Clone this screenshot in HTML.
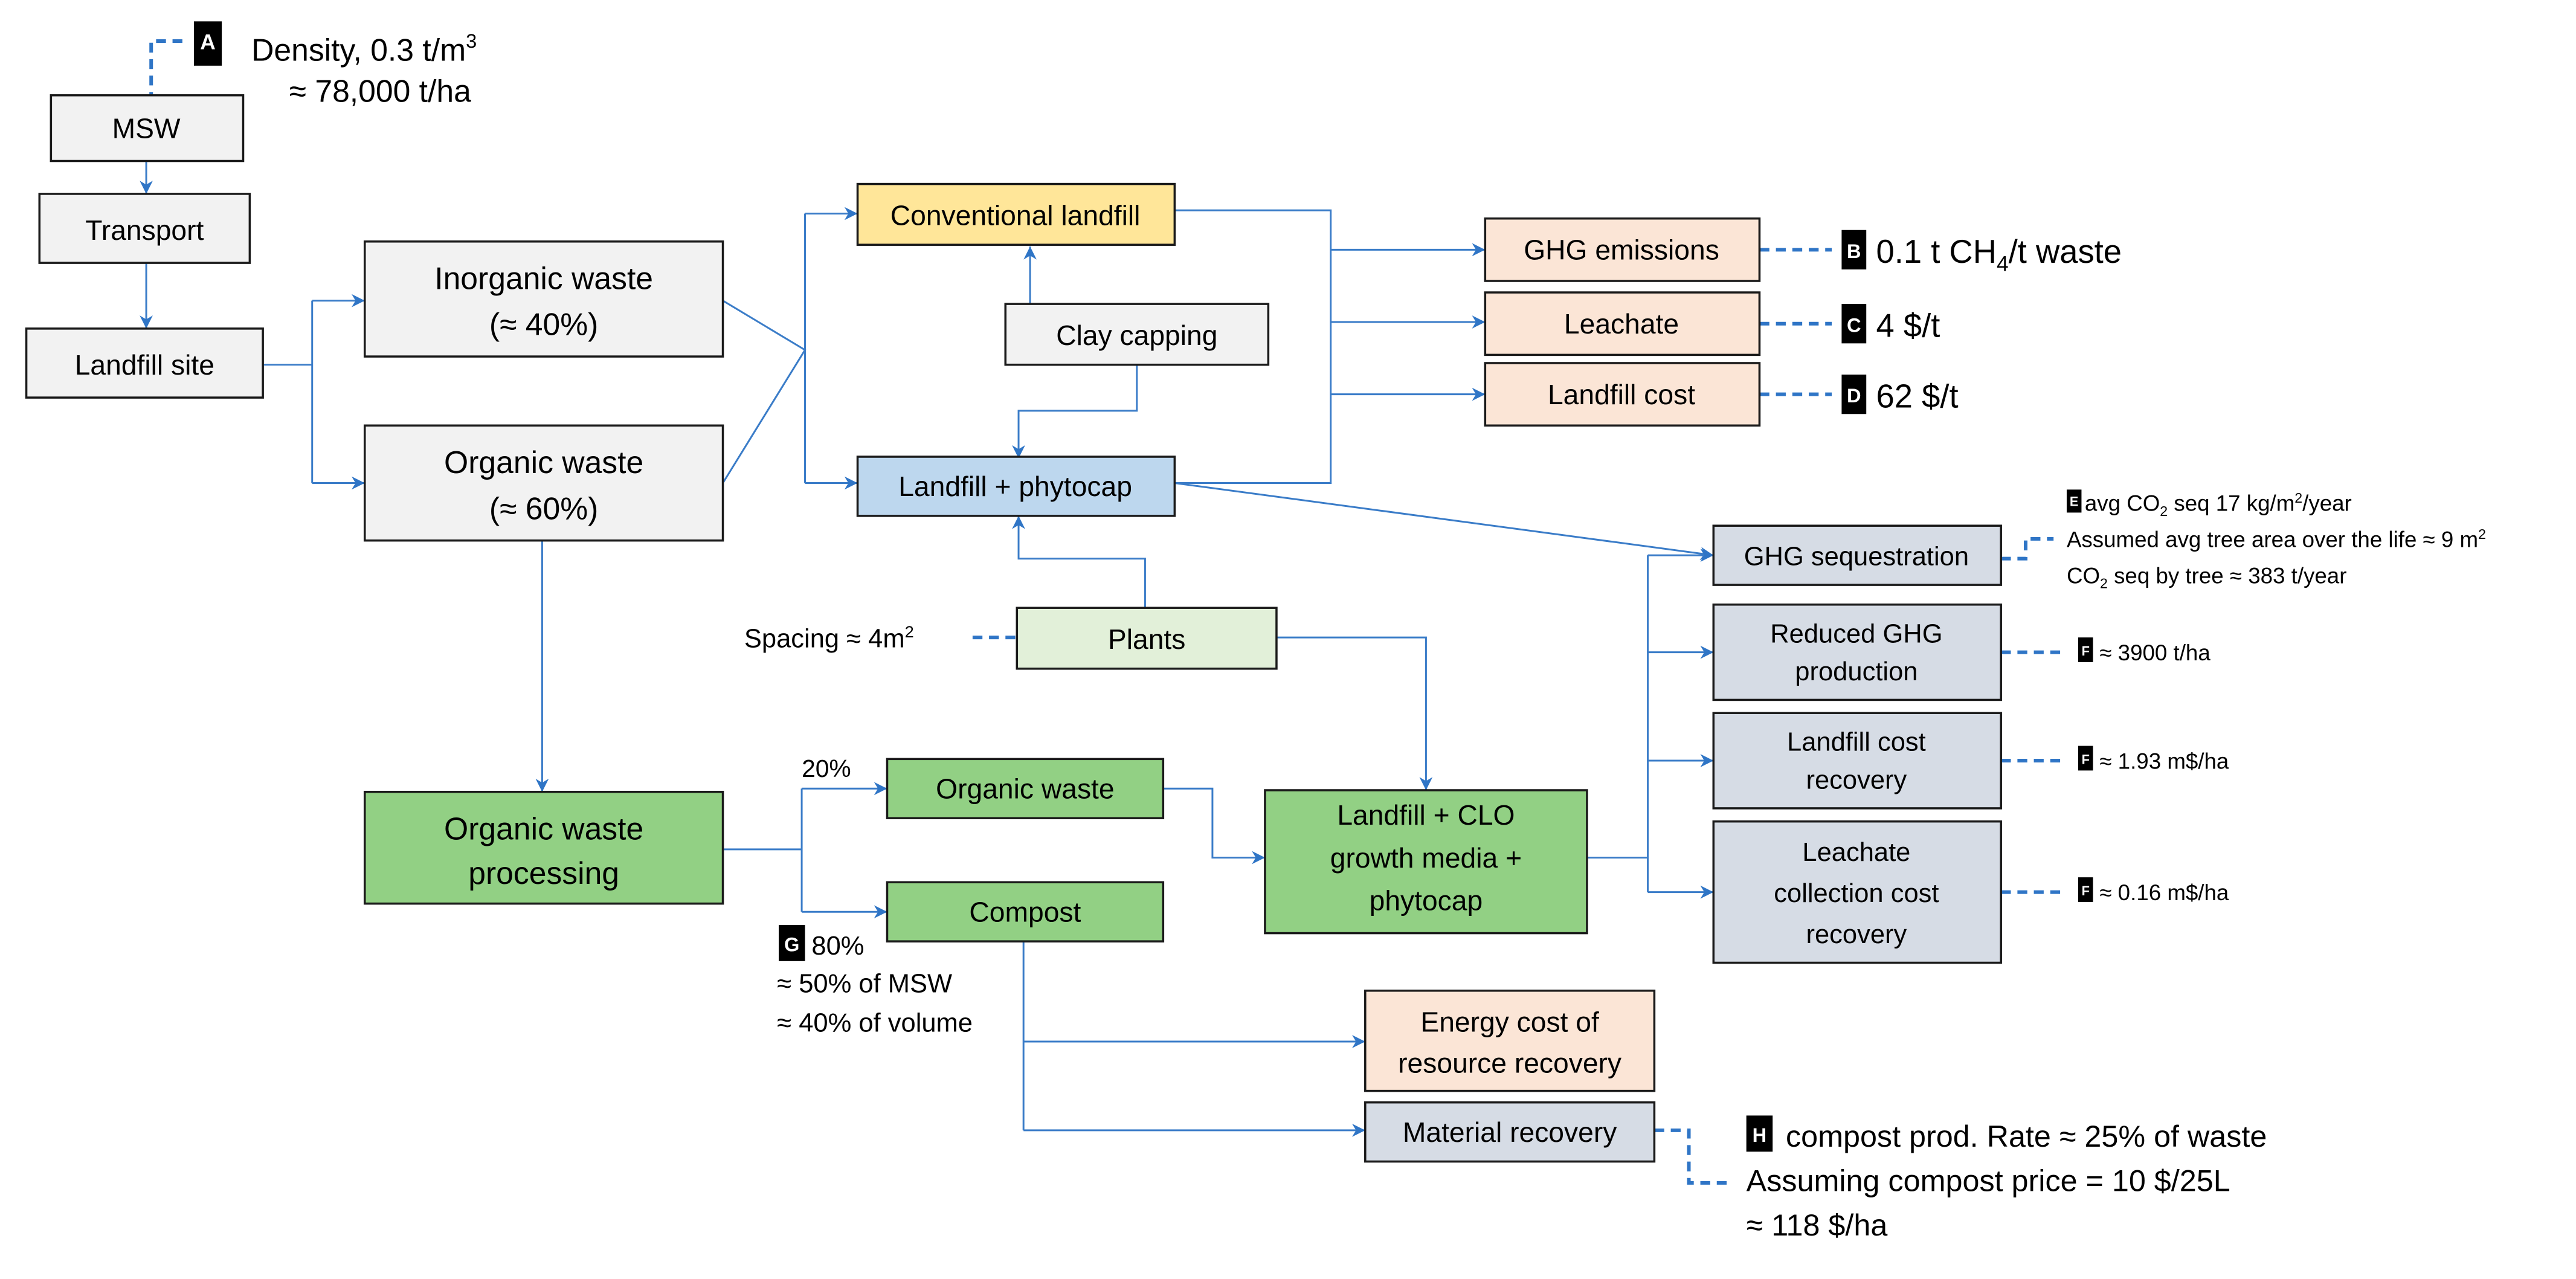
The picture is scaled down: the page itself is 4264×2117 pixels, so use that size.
<!DOCTYPE html>
<html><head><meta charset="utf-8">
<style>
html,body{margin:0;padding:0;background:#fff;}
svg{display:block;}
text{font-family:"Liberation Sans",sans-serif;fill:#000;}
</style></head>
<body>
<svg width="4264" height="2117" viewBox="0 0 1568 778.5" xmlns="http://www.w3.org/2000/svg">
<defs>
<marker id="ar" viewBox="0 0 10 10" refX="10" refY="5" markerWidth="8" markerHeight="8" markerUnits="userSpaceOnUse" orient="auto">
<path d="M0,0 L10,5 L0,10 L3,5 Z" fill="#2f75c6"/>
</marker>
</defs>
<rect width="1568" height="778.5" fill="#fff"/>

<g stroke="#3a7cc8" stroke-width="1.1" fill="none">
<line x1="89" y1="98" x2="89" y2="118" marker-end="url(#ar)"/>
<line x1="89" y1="160" x2="89" y2="200" marker-end="url(#ar)"/>
<polyline points="160,222 190,222"/>
<line x1="190" y1="183" x2="190" y2="294"/>
<line x1="190" y1="183" x2="222" y2="183" marker-end="url(#ar)"/>
<line x1="190" y1="294" x2="222" y2="294" marker-end="url(#ar)"/>
<polyline points="440,183 490,213 440,294"/>
<line x1="490" y1="130" x2="490" y2="294"/>
<line x1="490" y1="130" x2="522" y2="130" marker-end="url(#ar)"/>
<line x1="490" y1="294" x2="522" y2="294" marker-end="url(#ar)"/>
<line x1="627" y1="185" x2="627" y2="150" marker-end="url(#ar)"/>
<polyline points="692,222 692,250 620,250 620,279" marker-end="url(#ar)"/>
<polyline points="715,128 810,128 810,294 715,294"/>
<line x1="810" y1="152" x2="904" y2="152" marker-end="url(#ar)"/>
<line x1="810" y1="196" x2="904" y2="196" marker-end="url(#ar)"/>
<line x1="810" y1="240" x2="904" y2="240" marker-end="url(#ar)"/>
<line x1="715" y1="294" x2="1043" y2="338" marker-end="url(#ar)"/>
<polyline points="697,370 697,340 620,340 620,314" marker-end="url(#ar)"/>
<polyline points="777,388 868,388 868,481" marker-end="url(#ar)"/>
<line x1="330" y1="329" x2="330" y2="482" marker-end="url(#ar)"/>
<polyline points="440,517 488,517"/>
<line x1="488" y1="480" x2="488" y2="555"/>
<line x1="488" y1="480" x2="540" y2="480" marker-end="url(#ar)"/>
<line x1="488" y1="555" x2="540" y2="555" marker-end="url(#ar)"/>
<polyline points="708,480 738,480 738,522 770,522" marker-end="url(#ar)"/>
<polyline points="966,522 1003,522"/>
<line x1="1003" y1="338" x2="1003" y2="543"/>
<line x1="1003" y1="338" x2="1043" y2="338" marker-end="url(#ar)"/>
<line x1="1003" y1="397" x2="1043" y2="397" marker-end="url(#ar)"/>
<line x1="1003" y1="463" x2="1043" y2="463" marker-end="url(#ar)"/>
<line x1="1003" y1="543" x2="1043" y2="543" marker-end="url(#ar)"/>
<line x1="623" y1="573" x2="623" y2="688"/>
<line x1="623" y1="634" x2="831" y2="634" marker-end="url(#ar)"/>
<line x1="623" y1="688" x2="831" y2="688" marker-end="url(#ar)"/>
</g>

<g stroke="#2f75c6" stroke-width="2.2" fill="none" stroke-dasharray="6,4">
<polyline points="111,25 92,25 92,58"/>
<line x1="1071" y1="152" x2="1115" y2="152"/>
<line x1="1071" y1="197" x2="1115" y2="197"/>
<line x1="1071" y1="240" x2="1115" y2="240"/>
<polyline points="1218,340 1233,340 1233,328 1250,328"/>
<line x1="1218" y1="397" x2="1256" y2="397"/>
<line x1="1218" y1="463" x2="1256" y2="463"/>
<line x1="1218" y1="543" x2="1256" y2="543"/>
<polyline points="1007,688 1028,688 1028,720 1052,720"/>
<line x1="592" y1="388" x2="619" y2="388"/>
</g>

<g stroke="#1a1a1a" stroke-width="1.3">
<rect x="31" y="58" width="117" height="40" fill="#f2f2f2"/>
<rect x="24" y="118" width="128" height="42" fill="#f2f2f2"/>
<rect x="16" y="200" width="144" height="42" fill="#f2f2f2"/>
<rect x="222" y="147" width="218" height="70" fill="#f2f2f2"/>
<rect x="222" y="259" width="218" height="70" fill="#f2f2f2"/>
<rect x="522" y="112" width="193" height="37" fill="#ffe699"/>
<rect x="612" y="185" width="160" height="37" fill="#f2f2f2"/>
<rect x="522" y="278" width="193" height="36" fill="#bdd7ee"/>
<rect x="904" y="133" width="167" height="38" fill="#fbe5d6"/>
<rect x="904" y="178" width="167" height="38" fill="#fbe5d6"/>
<rect x="904" y="221" width="167" height="38" fill="#fbe5d6"/>
<rect x="1043" y="320" width="175" height="36" fill="#d6dce5"/>
<rect x="1043" y="368" width="175" height="58" fill="#d6dce5"/>
<rect x="1043" y="434" width="175" height="58" fill="#d6dce5"/>
<rect x="1043" y="500" width="175" height="86" fill="#d6dce5"/>
<rect x="619" y="370" width="158" height="37" fill="#e2f0d9"/>
<rect x="222" y="482" width="218" height="68" fill="#92d084"/>
<rect x="540" y="462" width="168" height="36" fill="#92d084"/>
<rect x="540" y="537" width="168" height="36" fill="#92d084"/>
<rect x="770" y="481" width="196" height="87" fill="#92d084"/>
<rect x="831" y="603" width="176" height="61" fill="#fbe5d6"/>
<rect x="831" y="671" width="176" height="36" fill="#d6dce5"/>
</g>

<g text-anchor="middle" font-size="17">
<text x="89" y="84">MSW</text>
<text x="88" y="146">Transport</text>
<text x="88" y="228">Landfill site</text>
<text x="331" y="176" font-size="19">Inorganic waste</text>
<text x="331" y="204" font-size="19">(≈ 40%)</text>
<text x="331" y="288" font-size="19">Organic waste</text>
<text x="331" y="316" font-size="19">(≈ 60%)</text>
<text x="618" y="137">Conventional landfill</text>
<text x="692" y="210">Clay capping</text>
<text x="618" y="302">Landfill + phytocap</text>
<text x="987" y="158">GHG emissions</text>
<text x="987" y="203">Leachate</text>
<text x="987" y="246">Landfill cost</text>
<text x="1130" y="344" font-size="16">GHG sequestration</text>
<text x="1130" y="391" font-size="16">Reduced GHG</text>
<text x="1130" y="414" font-size="16">production</text>
<text x="1130" y="457" font-size="16">Landfill cost</text>
<text x="1130" y="480" font-size="16">recovery</text>
<text x="1130" y="524" font-size="16">Leachate</text>
<text x="1130" y="549" font-size="16">collection cost</text>
<text x="1130" y="574" font-size="16">recovery</text>
<text x="698" y="395">Plants</text>
<text x="331" y="511" font-size="19">Organic waste</text>
<text x="331" y="538" font-size="19">processing</text>
<text x="624" y="486">Organic waste</text>
<text x="624" y="561">Compost</text>
<text x="868" y="502">Landfill + CLO</text>
<text x="868" y="528">growth media +</text>
<text x="868" y="554">phytocap</text>
<text x="919" y="628">Energy cost of</text>
<text x="919" y="653">resource recovery</text>
<text x="919" y="695">Material recovery</text>
</g>

<g fill="#000">
<rect x="118" y="13" width="17" height="27"/>
<rect x="1121" y="140" width="15" height="24"/>
<rect x="1121" y="185" width="15" height="24"/>
<rect x="1121" y="228" width="15" height="24"/>
<rect x="1258" y="298" width="9" height="14"/>
<rect x="1265" y="388" width="9" height="15"/>
<rect x="1265" y="454" width="9" height="15"/>
<rect x="1265" y="534" width="9" height="15"/>
<rect x="474" y="563" width="16" height="22"/>
<rect x="1063" y="679" width="16" height="22"/>
</g>
<g font-weight="bold" text-anchor="middle">
<text x="126.5" y="30" font-size="13" style="fill:#fff">A</text>
<text x="1128.5" y="157" font-size="12" style="fill:#fff">B</text>
<text x="1128.5" y="202" font-size="12" style="fill:#fff">C</text>
<text x="1128.5" y="245" font-size="12" style="fill:#fff">D</text>
<text x="1262.5" y="308" font-size="8" style="fill:#fff">E</text>
<text x="1269.5" y="399" font-size="8" style="fill:#fff">F</text>
<text x="1269.5" y="465" font-size="8" style="fill:#fff">F</text>
<text x="1269.5" y="545" font-size="8" style="fill:#fff">F</text>
<text x="482" y="579" font-size="12" style="fill:#fff">G</text>
<text x="1071" y="695" font-size="12" style="fill:#fff">H</text>
</g>

<g font-size="19">
<text x="153" y="37">Density, 0.3 t/m<tspan font-size="12" dy="-8">3</tspan></text>
<text x="176" y="62">≈ 78,000 t/ha</text>
<text x="1142" y="160" font-size="20">0.1 t CH<tspan font-size="13" dy="5">4</tspan><tspan dy="-5">/t waste</tspan></text>
<text x="1142" y="205" font-size="20">4 $/t</text>
<text x="1142" y="248" font-size="20">62 $/t</text>
<text x="1269" y="311" font-size="13.5">avg CO<tspan font-size="8.5" dy="3">2</tspan><tspan dy="-3"> seq 17 kg/m</tspan><tspan font-size="8.5" dy="-5">2</tspan><tspan dy="5">/year</tspan></text>
<text x="1258" y="333" font-size="13.5">Assumed avg tree area over the life ≈ 9 m<tspan font-size="8.5" dy="-5">2</tspan></text>
<text x="1258" y="355" font-size="13.5">CO<tspan font-size="8.5" dy="3">2</tspan><tspan dy="-3"> seq by tree ≈ 383 t/year</tspan></text>
<text x="1278" y="402" font-size="13.5">≈ 3900 t/ha</text>
<text x="1278" y="468" font-size="13.5">≈ 1.93 m$/ha</text>
<text x="1278" y="548" font-size="13.5">≈ 0.16 m$/ha</text>
<text x="453" y="394" font-size="16">Spacing ≈ 4m<tspan font-size="10" dy="-6">2</tspan></text>
<text x="488" y="473" font-size="15">20%</text>
<text x="494" y="581" font-size="16">80%</text>
<text x="473" y="604" font-size="16">≈ 50% of MSW</text>
<text x="473" y="628" font-size="16">≈ 40% of volume</text>
<text x="1087" y="698" font-size="18.5">compost prod. Rate ≈ 25% of waste</text>
<text x="1063" y="725" font-size="18.5">Assuming compost price = 10 $/25L</text>
<text x="1063" y="752" font-size="18.5">≈ 118 $/ha</text>
</g>
</svg>
</body></html>
